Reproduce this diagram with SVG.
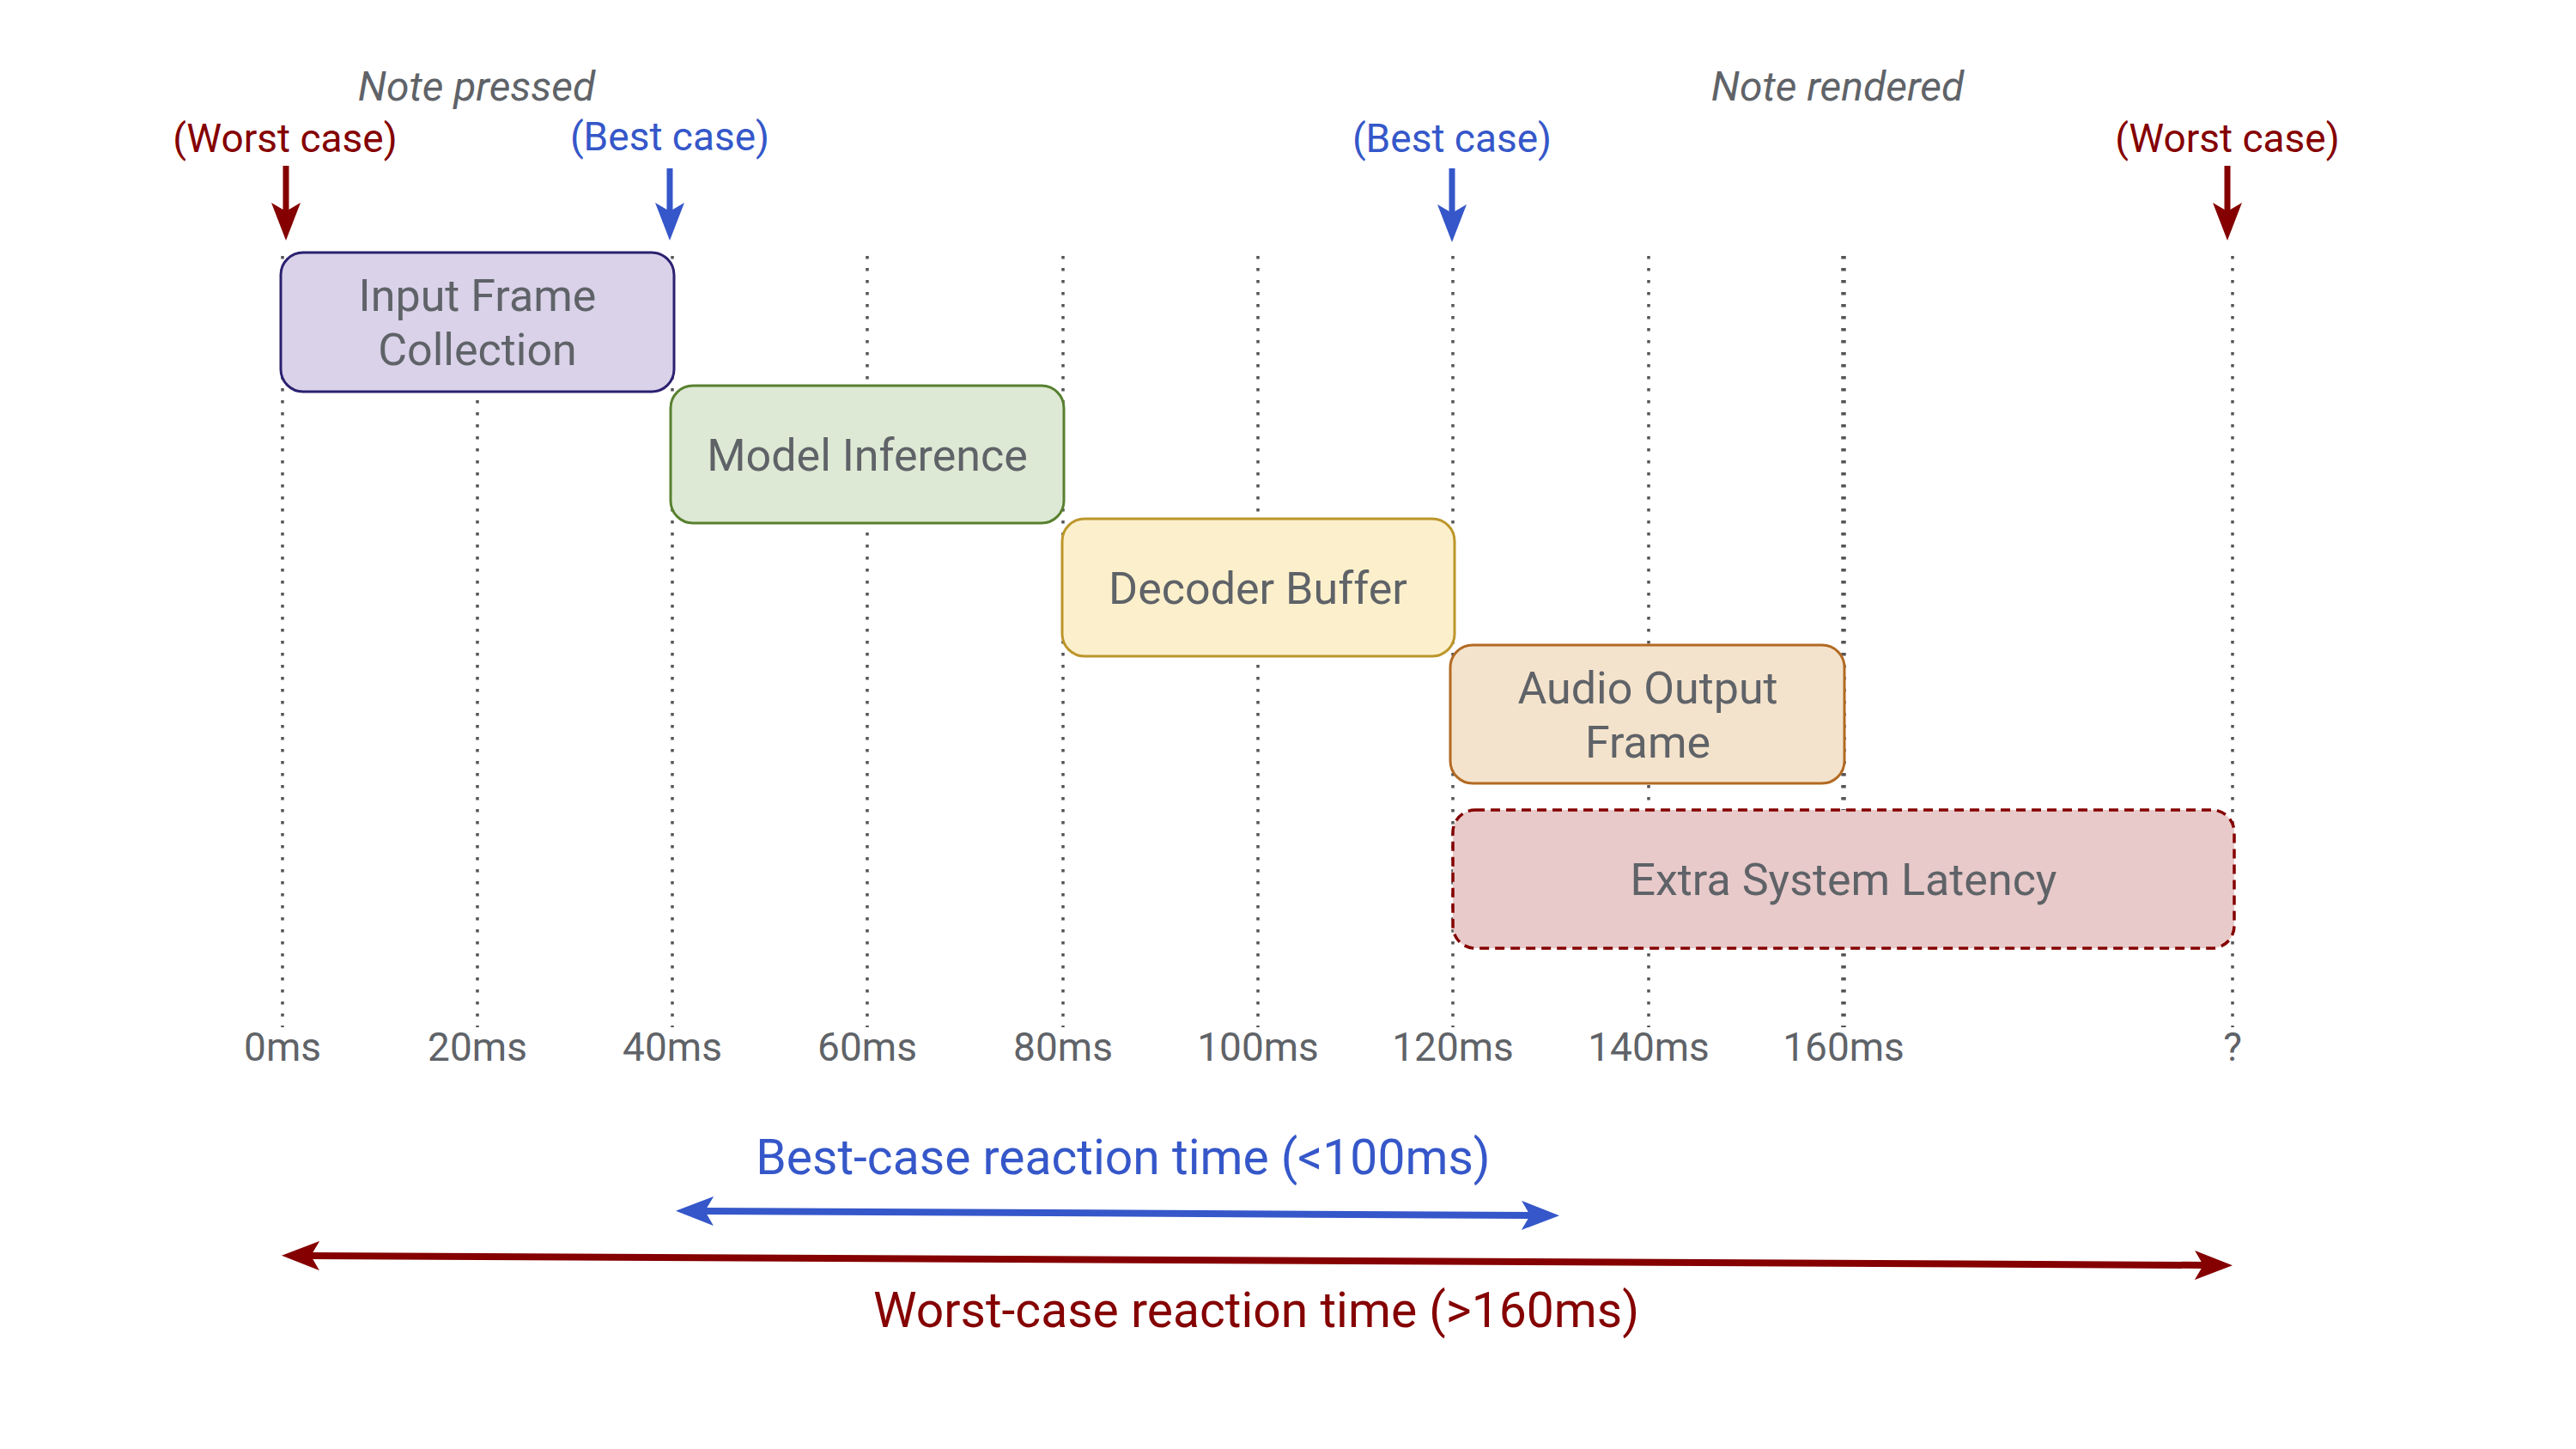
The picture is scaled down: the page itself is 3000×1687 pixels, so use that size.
<svg xmlns="http://www.w3.org/2000/svg" width="3000" height="1687" viewBox="0 0 3000 1687">
<style>
text{font-family:Roboto,"Liberation Sans",sans-serif;text-anchor:middle}
.lbl{font-size:52px;fill:#5f6368}
.ax{font-size:46px;fill:#5f6368}
.note{font-size:48px;fill:#5f6368;font-style:italic}
.red{fill:#850000}
.blue{fill:#3557c9}
.grid{stroke:#555;stroke-width:3.5;stroke-dasharray:3.5 10.5;fill:none}
.box{stroke-width:3}
</style>
<defs>
<marker id="ahR" markerUnits="userSpaceOnUse" viewBox="0 0 44 34" refX="10" refY="17" markerWidth="44" markerHeight="34" orient="auto-start-reverse"><path d="M0,0 L44,17 L0,34 L10,17 Z" fill="#850000"/></marker>
<marker id="ahB" markerUnits="userSpaceOnUse" viewBox="0 0 44 34" refX="10" refY="17" markerWidth="44" markerHeight="34" orient="auto-start-reverse"><path d="M0,0 L44,17 L0,34 L10,17 Z" fill="#3557c9"/></marker>
</defs>
<rect width="3000" height="1687" fill="#fff"/>
<g id="grid">
<line class="grid" x1="329" y1="298" x2="329" y2="1196"/>
<line class="grid" x1="556" y1="298" x2="556" y2="1196"/>
<line class="grid" x1="783" y1="298" x2="783" y2="1196"/>
<line class="grid" x1="1010" y1="298" x2="1010" y2="1196"/>
<line class="grid" x1="1238" y1="298" x2="1238" y2="1196"/>
<line class="grid" x1="1465" y1="298" x2="1465" y2="1196"/>
<line class="grid" x1="1692" y1="298" x2="1692" y2="1196"/>
<line class="grid" x1="1920" y1="298" x2="1920" y2="1196"/>
<line class="grid" x1="2147" y1="298" x2="2147" y2="1196" style="stroke-width:5.5"/>
<line class="grid" x1="2600" y1="298" x2="2600" y2="1196"/>
</g>
<g id="axis-labels">
<text class="ax" x="329" y="1235">0ms</text>
<text class="ax" x="556" y="1235">20ms</text>
<text class="ax" x="783" y="1235">40ms</text>
<text class="ax" x="1010" y="1235">60ms</text>
<text class="ax" x="1238" y="1235">80ms</text>
<text class="ax" x="1465" y="1235">100ms</text>
<text class="ax" x="1692" y="1235">120ms</text>
<text class="ax" x="1920" y="1235">140ms</text>
<text class="ax" x="2147" y="1235">160ms</text>
<text class="ax" x="2600" y="1235">?</text>
</g>
<g id="top-labels">
<text class="note" x="555" y="117">Note pressed</text>
<text class="note" x="2140" y="117">Note rendered</text>
<text class="ax red" x="332" y="177">(Worst case)</text>
<text class="ax blue" x="780" y="175">(Best case)</text>
<text class="ax blue" x="1691" y="177">(Best case)</text>
<text class="ax red" x="2594" y="177">(Worst case)</text>
</g>
<g id="node-input">
<rect class="box" x="327" y="294" width="458" height="162" rx="26" fill="#d9d2e9" stroke="#2b2170"/>
<text class="lbl" x="556" y="362">Input Frame</text>
<text class="lbl" x="556" y="425">Collection</text>
</g>
<g id="node-model">
<rect class="box" x="781" y="449" width="458" height="160" rx="26" fill="#dde9d4" stroke="#58802f"/>
<text class="lbl" x="1010" y="548">Model Inference</text>
</g>
<g id="node-decoder">
<rect class="box" x="1237" y="604" width="457" height="160" rx="26" fill="#fcf0cc" stroke="#bc962a"/>
<text class="lbl" x="1465" y="703">Decoder Buffer</text>
</g>
<g id="node-audio">
<rect class="box" x="1689" y="751" width="459" height="161" rx="26" fill="#f4e3cc" stroke="#b26a22"/>
<text class="lbl" x="1919" y="819">Audio Output</text>
<text class="lbl" x="1919" y="882">Frame</text>
</g>
<g id="node-extra">
<rect x="1692" y="943" width="910" height="161" rx="26" fill="#e8caca" stroke="#850000" stroke-width="3.5" stroke-dasharray="11 7"/>
<text class="lbl" x="2147" y="1042">Extra System Latency</text>
</g>
<g id="connectors" fill="none">
<line x1="333" y1="193" x2="333" y2="246" stroke="#850000" stroke-width="7" marker-end="url(#ahR)"/>
<line x1="780" y1="196" x2="780" y2="246" stroke="#3557c9" stroke-width="7" marker-end="url(#ahB)"/>
<line x1="1691" y1="196" x2="1691" y2="248" stroke="#3557c9" stroke-width="7" marker-end="url(#ahB)"/>
<line x1="2594" y1="193" x2="2594" y2="246" stroke="#850000" stroke-width="7" marker-end="url(#ahR)"/>
<line x1="821" y1="1410" x2="1782" y2="1415" stroke="#3557c9" stroke-width="8" marker-start="url(#ahB)" marker-end="url(#ahB)"/>
<line x1="362" y1="1462" x2="2566" y2="1473" stroke="#850000" stroke-width="8" marker-start="url(#ahR)" marker-end="url(#ahR)"/>
</g>
<g id="bottom-labels">
<text x="1308" y="1367" style="font-size:57px" class="blue">Best-case reaction time (&lt;100ms)</text>
<text x="1463" y="1545" style="font-size:57px" class="red">Worst-case reaction time (&gt;160ms)</text>
</g>
</svg>
